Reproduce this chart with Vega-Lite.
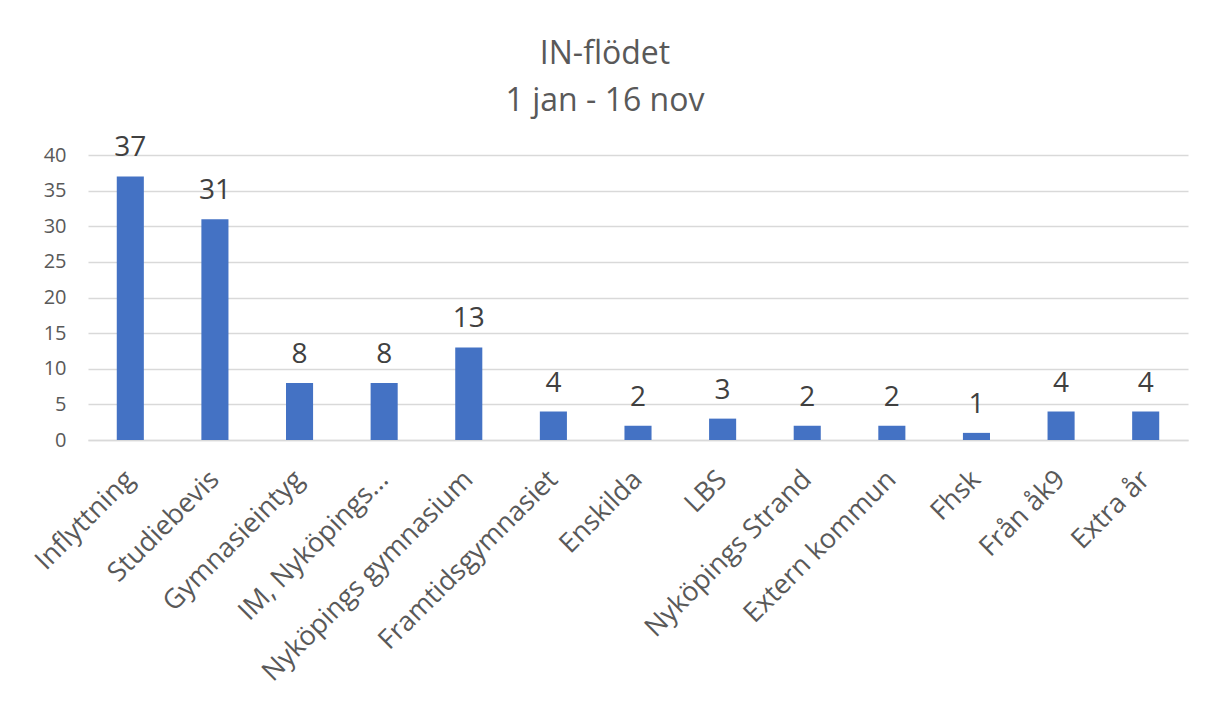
{
  "$schema": "https://vega.github.io/schema/vega-lite/v6.json",
  "autosize": "none",
  "width": 1100,
  "height": 285,
  "padding": {"left": 88, "top": 155, "right": 17, "bottom": 264},
  "background": "white",
  "title": {
    "text": ["IN-flödet", "1 jan - 16 nov"],
    "font": "Open Sans",
    "fontSize": 32,
    "fontWeight": "normal",
    "color": "#595959",
    "lineHeight": 47,
    "anchor": "middle",
    "dx": -33,
    "offset": 16
  },
  "config": {
    "view": {"stroke": null},
    "font": "Open Sans"
  },
  "data": {
    "values": [
      {"kategori": "Inflyttning", "antal": 37},
      {"kategori": "Studiebevis", "antal": 31},
      {"kategori": "Gymnasieintyg", "antal": 8},
      {"kategori": "IM, Nyköpings...", "antal": 8},
      {"kategori": "Nyköpings gymnasium", "antal": 13},
      {"kategori": "Framtidsgymnasiet", "antal": 4},
      {"kategori": "Enskilda", "antal": 2},
      {"kategori": "LBS", "antal": 3},
      {"kategori": "Nyköpings Strand", "antal": 2},
      {"kategori": "Extern kommun", "antal": 2},
      {"kategori": "Fhsk", "antal": 1},
      {"kategori": "Från åk9", "antal": 4},
      {"kategori": "Extra år", "antal": 4}
    ]
  },
  "encoding": {
    "x": {
      "field": "kategori",
      "type": "nominal",
      "sort": null,
      "title": null,
      "scale": {"paddingInner": 0.68, "paddingOuter": 0.34},
      "axis": {
        "labelAngle": -45,
        "labelAlign": "right",
        "labelBaseline": "middle",
        "labelFontSize": 27,
        "labelColor": "#595959",
        "labelPadding": 35,
        "ticks": false,
        "domainColor": "#d9d9d9",
        "domainWidth": 1.5,
        "labelLimit": 400
      }
    },
    "y": {
      "field": "antal",
      "type": "quantitative",
      "title": null,
      "scale": {"domain": [0, 40]},
      "axis": {
        "values": [0, 5, 10, 15, 20, 25, 30, 35, 40],
        "domain": false,
        "ticks": false,
        "gridColor": "#d9d9d9",
        "gridWidth": 1.5,
        "labelFontSize": 20,
        "labelColor": "#595959",
        "labelPadding": 22
      }
    }
  },
  "layer": [
    {"mark": {"type": "bar", "color": "#4472C4"}},
    {
      "mark": {"type": "text", "baseline": "alphabetic", "dy": -20, "fontSize": 28, "color": "#404040"},
      "encoding": {"text": {"field": "antal", "type": "quantitative"}}
    }
  ]
}
